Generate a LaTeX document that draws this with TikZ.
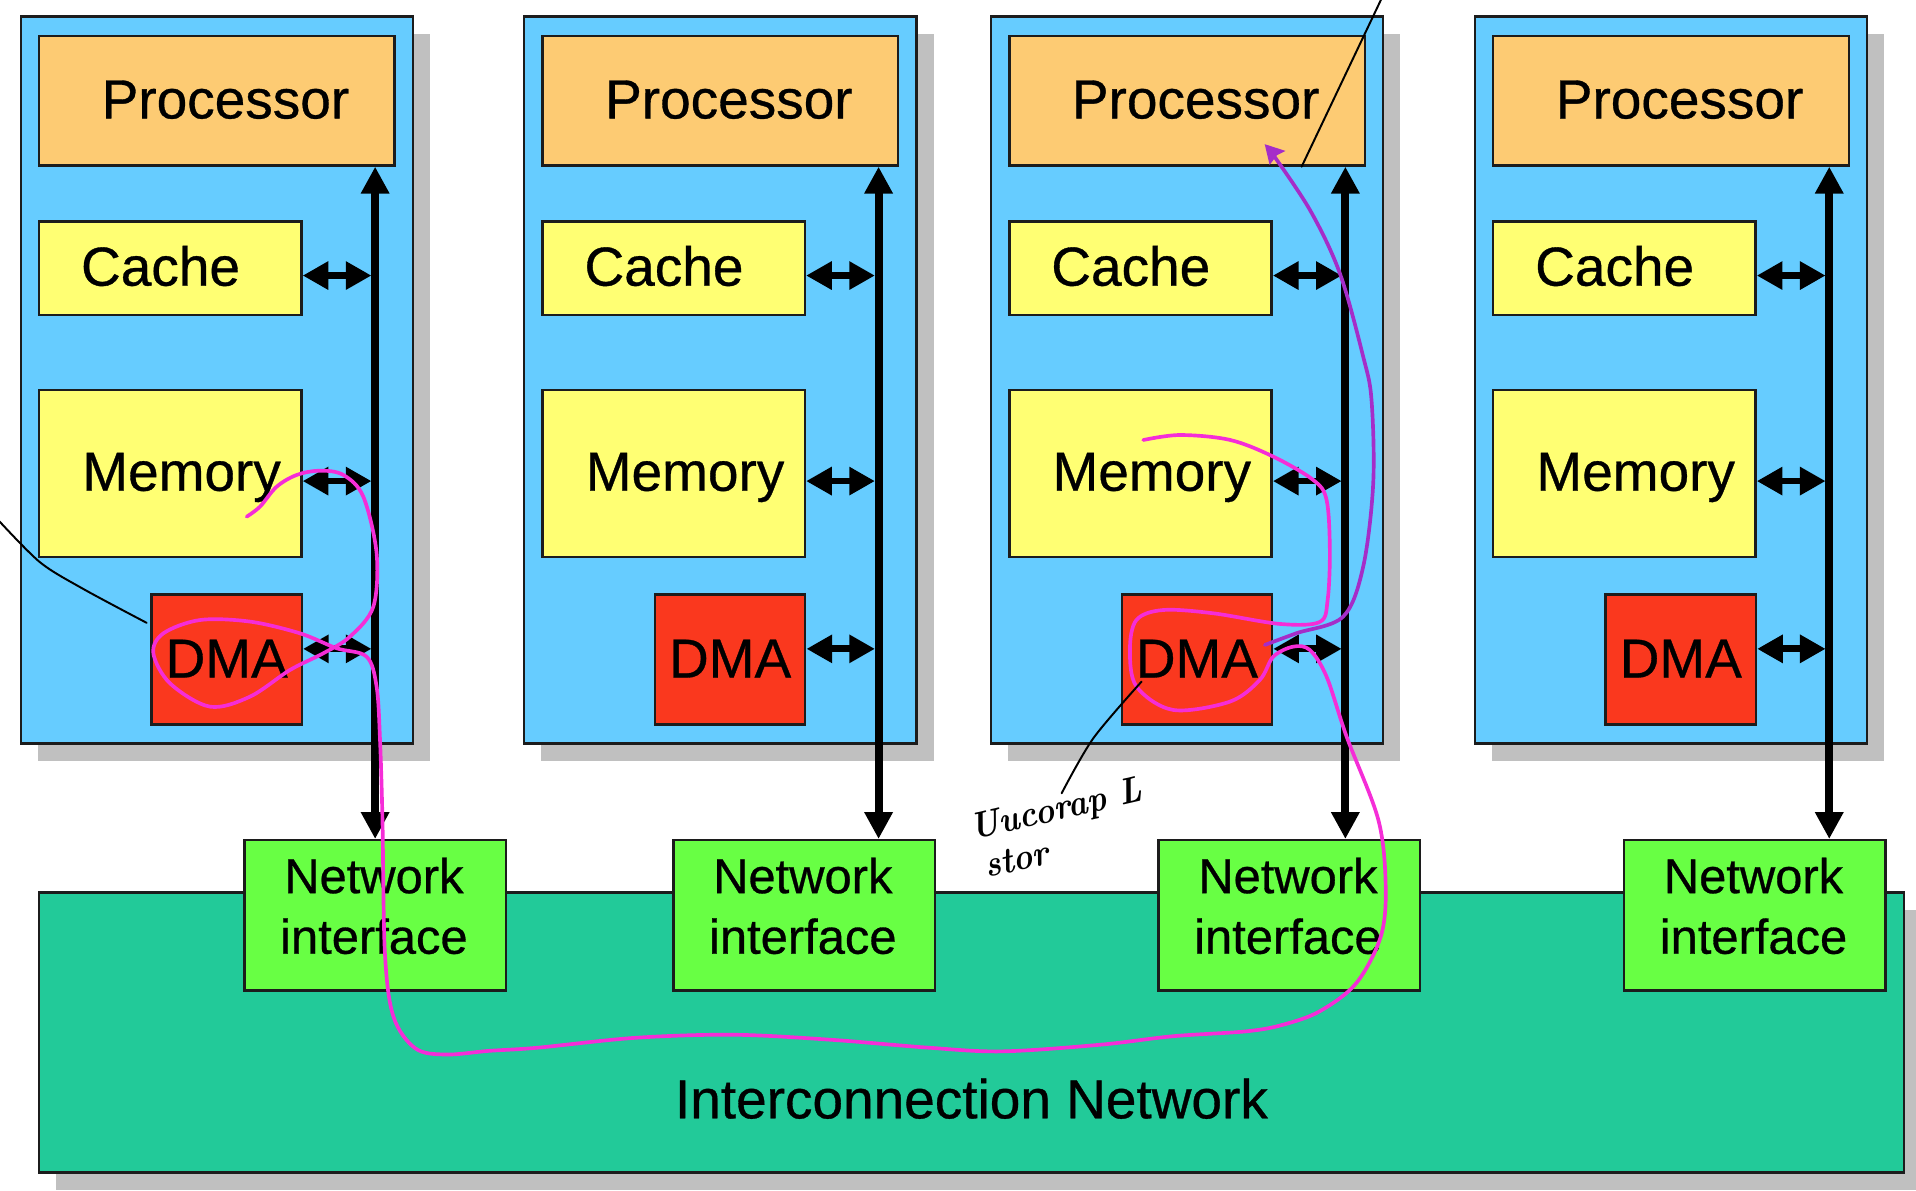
\documentclass[tikz,border=0pt]{standalone}
\usepackage{fontspec}
\newfontfamily\labelfont{Liberation Sans}[FakeBold=0.6]
\usetikzlibrary{arrows.meta}

\definecolor{panelblue}{RGB}{102,204,255}
\definecolor{procorange}{RGB}{253,203,115}
\definecolor{memyellow}{RGB}{255,255,115}
\definecolor{dmared}{RGB}{250,56,30}
\definecolor{nigreen}{RGB}{104,255,68}
\definecolor{netteal}{RGB}{34,202,153}
\definecolor{shadowgray}{RGB}{192,192,192}
\definecolor{inkpink}{RGB}{245,45,215}
\definecolor{inkpurple}{RGB}{165,45,200}
\definecolor{edge}{RGB}{28,28,28}

\tikzset{
  box/.style={draw=edge, line width=2pt, rectangle, inner sep=0pt, anchor=north west},
  txt/.style={font=\labelfont\fontsize{45}{54}\selectfont, anchor=base, inner sep=0pt},
  nitxt/.style={font=\labelfont\fontsize{40}{48}\selectfont, anchor=base, inner sep=0pt},
  busline/.style={line width=6.5pt,
    {Triangle[length=22pt,width=22pt]}-{Triangle[length=22pt,width=22pt]}},
  link/.style={line width=5.5pt,
    {Triangle[length=21pt,width=22pt]}-{Triangle[length=21pt,width=22pt]}},
  pinkink/.style={draw=inkpink, line width=3pt, line cap=round, line join=round},
  purpleink/.style={draw=inkpurple, line width=3pt, line cap=round, line join=round},
  pen/.style={draw=black, line width=1.6pt, line cap=round},
  hand/.style={font=\fontsize{30}{33}\selectfont\itshape\bfseries, inner sep=0pt, anchor=base west}
}

% one processing node: #1 = index, #2 = left edge, #3 = network interface below it
\newcommand{\cpupanel}[3]{%
  \fill[shadowgray] ({#2+15},27.5) rectangle ({#2+336},622.5);
  \node[box, fill=panelblue, minimum width=321pt, minimum height=595pt] (panel#1) at (#2,12.5) {};
  \node[box, fill=procorange, minimum width=291pt, minimum height=106pt] (proc#1) at ({#2+15},28.4) {};
  \node[box, fill=memyellow, minimum width=214.7pt, minimum height=76.4pt] (cache#1) at ({#2+15},180.4) {};
  \node[box, fill=memyellow, minimum width=214.7pt, minimum height=136.9pt] (mem#1) at ({#2+15},318.1) {};
  \node[box, fill=dmared, minimum width=123pt, minimum height=106.5pt] (dma#1) at ({#2+107},485.5) {};
  \node[txt] (proctext#1) at ({#2+168.5},96.9) {Processor};
  \node[txt] (cachetext#1) at ({#2+115.4},233.8) {Cache};
  \node[txt] (memtext#1) at ({#2+132.6},401.6) {Memory};
  \node[txt] (dmatext#1) at ({#2+169.5},554.5) {DMA};
  \coordinate (bus#1) at ({#2+291},0);
  \coordinate (busedge#1) at ({#2+288},0);
  \draw[busline] (proc#1.south -| bus#1) -- (#3.north -| bus#1);
  \draw[link] (cache#1.east |- 0,225.5) -- (busedge#1 |- 0,225.5);
  \draw[link] (mem#1.east |- 0,393.7) -- (busedge#1 |- 0,393.7);
  \draw[link] (dma#1.east |- 0,531) -- (busedge#1 |- 0,531);
}

\begin{document}
\begin{tikzpicture}[x=1pt, y=-1pt]
\useasboundingbox (0,0) rectangle (1568,974);
\clip (0,0) rectangle (1568,974);

% interconnection network with its shadow
\fill[shadowgray] (46,744.5) rectangle (1572,973.5);
\node[box, fill=netteal, minimum width=1526pt, minimum height=229pt] (net) at (31,729.5) {};
\node[txt] (nettext) at (795,915.2) {Interconnection Network};

% network interfaces
\foreach \i/\x in {1/199, 2/550, 3/947, 4/1328} {
  \node[box, fill=nigreen, minimum width=214pt, minimum height=123pt] (ni\i) at (\x,686.6) {};
  \node[nitxt] (nitop\i) at ({\x+107},730.9) {Network};
  \node[nitxt] (nibot\i) at ({\x+107},780.5) {interface};
}

% processing nodes
\cpupanel{1}{16}{ni1}
\cpupanel{2}{428}{ni2}
\cpupanel{3}{810}{ni3}
\cpupanel{4}{1206}{ni4}

% hand-drawn path of the transfer, memory to memory
\draw[pinkink] plot[smooth, tension=0.55] coordinates {
  (201.9,422.8) (212.8,414.6) (226.4,398.3) (242.8,388.7) (261.9,385.2)
  (281,388.7) (297.3,406.4) (308.2,452.8) (305.5,496.5) (286.4,521)
  (264.6,534.6) (237.3,548.3) (204.6,570.1) (171.8,578.3) (139.1,559.2)
  (125.5,534.6) (133.7,518.3) (163.7,507.4) (204.6,508.7) (245.5,518.3)
  (275.5,530.5) (300,537.4) (308.2,561.9) (311,605.6) (313,671)
  (315,780) (322,832) (340,858) (365,863) (400,860) (440,857.4)
  (520,849.3) (600,846.8) (680,850.9) (760,857.4) (820,860.4)
  (900,855) (960,848) (1020,844) (1050,838.6) (1080,827.6)
  (1110,804.5) (1130,766.3) (1134,725.4) (1128,671) (1102,602.8)
  (1085.6,553.7) (1071.9,531.9) (1058.3,529.2) (1042,537.4) (1031,556.4)
  (1006.5,574.2) (960.1,581) (930.1,561.9) (924.7,531.9) (930,507.4)
  (951.9,499.2) (992.9,501.9) (1047.4,510.6) (1080,509) (1086.5,491)
  (1088.3,450) (1085.6,409) (1074.7,392.8) (1042,373.7) (1006.5,360)
  (965.6,356) (935.6,360.1)};

% hand-drawn arrow from the DMA engine up to the processor
\draw[purpleink] plot[smooth, tension=0.55] coordinates {
  (1035.1,527.8) (1061,518.2) (1099.2,504.6) (1115.6,463.7) (1123.8,395.5)
  (1122.4,327.3) (1115.6,291.9) (1096.5,223.7) (1072,171.8) (1040,124)};
\fill[inkpurple] (1035,118) -- (1052,123.5) -- (1045,127) -- (1039,135) -- cycle;

% pointer strokes and handwritten note
\draw[pen] plot[smooth] coordinates {(-2,425) (32.7,460.1) (68.2,482) (120,509.7)};
\draw[pen] (1131,-2) -- (1065.2,136.4);
\draw[pen] plot[smooth] coordinates {(934.2,557.8) (894.7,604.2) (868.8,649.2)};
\node[hand, rotate=13, xscale=0.9] (note) at (796.5,687.4)
  {\begin{tabular}[t]{@{}l@{}}Uucorap\hspace{12pt}L\\\hspace{5pt}stor\end{tabular}};
\end{tikzpicture}
\end{document}
